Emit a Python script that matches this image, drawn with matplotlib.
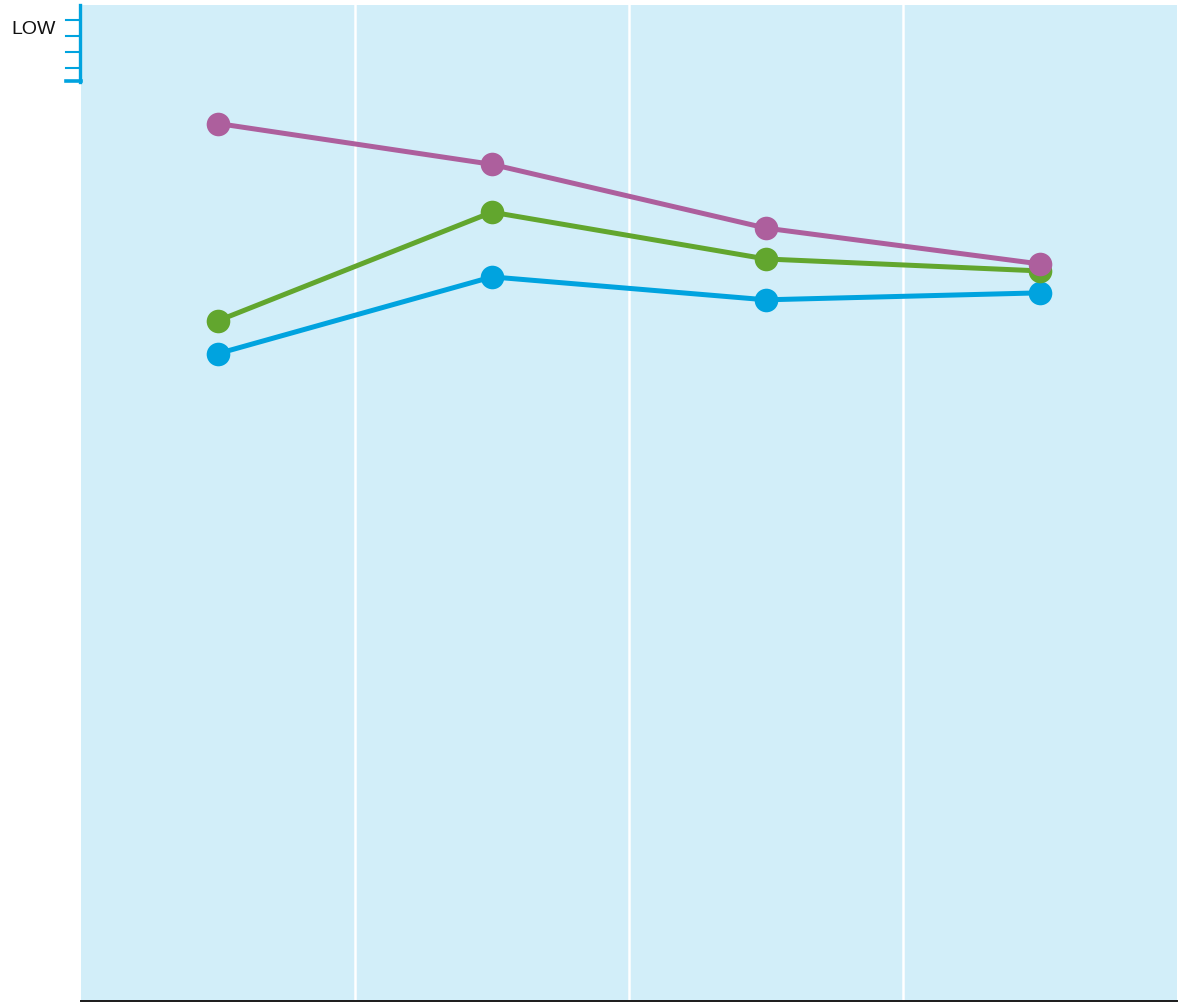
import matplotlib
matplotlib.use("Agg")
import matplotlib.pyplot as plt
from matplotlib.lines import Line2D

plt.rcParams['font.family'] = ['Liberation Sans', 'DejaVu Sans']

# data (score, 0 = bottom, 100 = top)
categories = ["1", "2", "3", "4"]
purple_vals = [88.1, 84.0, 77.6, 74.0]
green_vals = [68.3, 79.2, 74.5, 73.3]
blue_vals = [65.0, 72.7, 70.4, 71.1]

BG = '#d2eef9'
PURPLE = '#ad5f9d'
GREEN = '#62a62e'
BLUE = '#00a3df'

W, H = 1182, 1002
fig = plt.figure(figsize=(W / 100, H / 100), dpi=100)
ax = fig.add_axes([81 / W, 1 - 1001 / H, (1177 - 81) / W, (1001 - 5) / H])
ax.set_facecolor(BG)

xs = [i + 0.5 for i in range(len(categories))]
for vals, col in [(blue_vals, BLUE), (green_vals, GREEN), (purple_vals, PURPLE)]:
    ax.plot(xs, vals, color=col, linewidth=3.6, marker='o', markersize=17,
            markeredgewidth=0, solid_capstyle='round')

ax.set_xlim(0, 4)
ax.set_ylim(0, 100)
for gx in [1, 2, 3]:
    ax.axvline(gx, color='white', linewidth=1.8, zorder=0)

for s in ['top', 'left', 'right']:
    ax.spines[s].set_visible(False)
ax.spines['bottom'].set_color('#1a1a1a')
ax.spines['bottom'].set_linewidth(1.4)
ax.set_xticks([])
ax.set_yticks([])

# small "LOW" scale at top-left
def fx(px):
    return px / W

def fy(py):
    return 1 - py / H

fig.add_artist(Line2D([fx(80), fx(80)], [fy(5), fy(82)], color=BLUE, linewidth=2.4,
                      transform=fig.transFigure))
for ty in [20, 36, 52, 68]:
    fig.add_artist(Line2D([fx(66), fx(80)], [fy(ty), fy(ty)], color=BLUE, linewidth=1.5,
                          transform=fig.transFigure))
fig.add_artist(Line2D([fx(66), fx(81)], [fy(80.5), fy(80.5)], color=BLUE, linewidth=2.6,
                      transform=fig.transFigure))
fig.text(fx(56), fy(30), "LOW", ha='right', va='center', fontsize=14, color='#111111')

fig.savefig("out.png", dpi=100)
